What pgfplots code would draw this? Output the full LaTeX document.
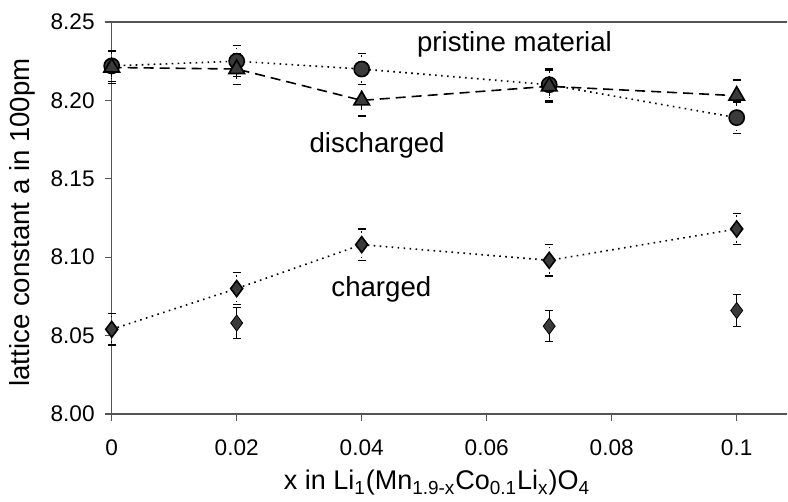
\documentclass[border=0pt]{standalone}
\usepackage{pgfplots}
\pgfplotsset{compat=1.18}
\usepackage{fontspec}
\setmainfont{Liberation Sans}

\definecolor{markfill}{HTML}{3A3A3A}
\definecolor{axisgray}{HTML}{555555}

\begin{document}
\begin{tikzpicture}
\begin{axis}[
  scale only axis,
  width=337.5pt, height=196pt,
  at={(0,0)}, anchor=south west,
  xmin=0, xmax=0.108,
  ymin=8.0, ymax=8.25,
  axis x line=box,
  axis y line=left,
  axis line style={-, axisgray, line width=0.6pt},
  tick style={axisgray, line width=0.6pt},
  tick align=outside,
  xtick pos=bottom,
  ytick pos=left,
  major tick length=3.5pt,
  xtick={0,0.02,0.04,0.06,0.08,0.1},
  xticklabels={0,0.02,0.04,0.06,0.08,0.1},
  ytick={8.00,8.05,8.10,8.15,8.20,8.25},
  yticklabels={8.00,8.05,8.10,8.15,8.20,8.25},
  ticklabel style={font=\fontsize{11.3}{13}\selectfont},
  xticklabel style={yshift=-6pt},
  yticklabel style={xshift=-1.5pt},
  xlabel={x in Li\textsubscript{1}(Mn\textsubscript{1.9-x}Co\textsubscript{0.1}Li\textsubscript{x})O\textsubscript{4}},
  xlabel style={at={(axis description cs:0.482,-0.176)}, anchor=center, font=\fontsize{13.5}{15}\selectfont},
  ylabel={lattice constant a in 100pm},
  ylabel style={at={(axis description cs:-0.1329,0.4885)}, anchor=center, font=\fontsize{13.8}{15}\selectfont},
  clip=false,
  error bars/y dir=both,
  error bars/y fixed=0.01,
  error bars/error bar style={black, line width=0.6pt},
  error bars/error mark options={black, line width=0.6pt, mark size=2pt, rotate=90},
]
% pristine material
\addplot[black, line width=0.8pt, dash pattern=on 0.8pt off 2.2pt, mark=*, mark size=3.8pt,
  mark options={solid, fill=markfill, draw=black}] coordinates {
  (0, 8.222) (0.02, 8.225) (0.04, 8.220) (0.07, 8.210) (0.1, 8.189)
};
% discharged
\addplot[black, line width=0.8pt, dash pattern=on 5pt off 3pt, mark=triangle*, mark size=4.5pt,
  mark options={solid, fill=markfill, draw=black}] coordinates {
  (0, 8.221) (0.02, 8.220) (0.04, 8.200) (0.07, 8.209) (0.1, 8.203)
};
% charged (connected)
\addplot[black, line width=0.8pt, dash pattern=on 0.8pt off 2.2pt, mark=diamond*, mark size=4pt,
  mark options={solid, fill=markfill, draw=black}] coordinates {
  (0, 8.054) (0.02, 8.080) (0.04, 8.108) (0.07, 8.098) (0.1, 8.118)
};
% charged (second set, no line)
\addplot[only marks, mark=diamond*, mark size=4pt,
  mark options={solid, fill=markfill, draw=black}] coordinates {
  (0.02, 8.058) (0.07, 8.056) (0.1, 8.066)
};
\node[anchor=base west, inner sep=0pt, font=\fontsize{13.8}{15}\selectfont] at (axis cs:0.0488,8.2309) {pristine material};
\node[anchor=base west, inner sep=0pt, font=\fontsize{13.8}{15}\selectfont] at (axis cs:0.0316,8.1665) {discharged};
\node[anchor=base west, inner sep=0pt, font=\fontsize{13.8}{15}\selectfont] at (axis cs:0.0351,8.0748) {charged};
\end{axis}
\pgfresetboundingbox
\path[use as bounding box] (-55.85pt,-44pt) rectangle (338.15pt,207pt);
\end{tikzpicture}
\end{document}
